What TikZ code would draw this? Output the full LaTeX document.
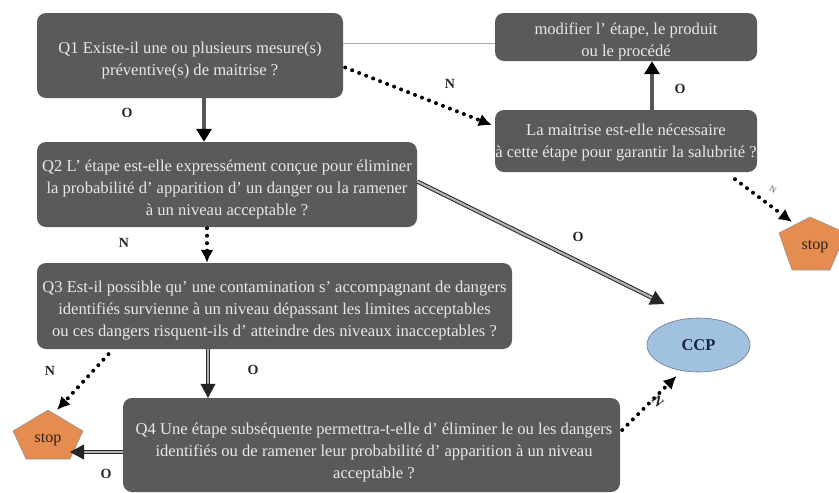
\documentclass[tikz,border=0pt]{standalone}
\usepackage{fontspec}
\setmainfont{Liberation Serif}
\usetikzlibrary{arrows.meta,shapes.geometric,calc}
\definecolor{boxgray}{RGB}{90,90,90}
\definecolor{boxtext}{RGB}{232,232,232}
\definecolor{stoporange}{RGB}{229,141,80}
\definecolor{ccpblue}{RGB}{160,193,224}
\definecolor{ccptext}{RGB}{25,35,65}
\definecolor{shaftgray}{RGB}{85,85,85}
\begin{document}
\begin{tikzpicture}[x=1pt,y=-1pt,
  qbox/.style={fill=boxgray, rounded corners=9pt, inner sep=0pt},
  qtext/.style={text=boxtext, align=center, font=\fontsize{16.6}{22}\selectfont, inner sep=0pt},
  lbl/.style={font=\fontsize{14}{14}\selectfont\bfseries, text=black!85},
  thickarrow/.style={line width=3.5pt, draw=shaftgray, -{Triangle[length=13pt,width=15pt,color=black]}},
  dotarrow/.style={line width=4pt, line cap=round, dash pattern=on 0pt off 7.5pt, draw=black,
    -{Latex[length=13pt,width=13pt]}},
  dblarrow/.style={draw=black!85, line width=1pt, double=gray!60, double distance=2.2pt,
    -{Triangle[length=14pt,width=15pt]}},
  stopshape/.style={fill=stoporange, draw=gray!80, line width=0.6pt},
  stoptext/.style={font=\fontsize{16}{16}\selectfont, text=black!75!brown}
]
\useasboundingbox (0,0) rectangle (839,493);
\fill[white] (0,0) rectangle (839,493);

% boxes
\node[qbox, minimum width=306pt, minimum height=85pt] (q1) at (190,55.5) {};
\node[qtext] (q1t) at (190,60.5)
  {Q1 Existe-il une ou plusieurs mesure(s)\\préventive(s) de maitrise ?};
\node[qbox, minimum width=262pt, minimum height=48pt] (mod) at (626,37) {};
\node[qtext] (modt) at (626,41)
  {modifier l' étape, le produit\\ou le procédé};
\node[qbox, minimum width=262pt, minimum height=62pt] (mai) at (626,141) {};
\node[qtext] (mait) at (626,143)
  {La maitrise est-elle nécessaire\\à cette étape pour garantir la salubrité ?};
\node[qbox, minimum width=380pt, minimum height=85pt] (q2) at (227,184.5) {};
\node[qtext] (q2t) at (227,189)
  {Q2 L' étape est-elle expressément conçue pour éliminer\\la probabilité d' apparition d' un danger ou la ramener\\à un niveau acceptable ?};
\node[qbox, minimum width=475pt, minimum height=86pt] (q3) at (274.5,306) {};
\node[qtext] (q3t) at (274.5,311)
  {Q3 Est-il possible qu' une contamination s' accompagnant de dangers\\identifiés survienne à un niveau dépassant les limites acceptables\\ou ces dangers risquent-ils d' atteindre des niveaux inacceptables ?};
\node[qbox, minimum width=497pt, minimum height=94pt] (q4) at (371.5,445) {};
\node[qtext] (q4t) at (374,452)
  {Q4 Une étape subséquente permettra-t-elle d' éliminer le ou les dangers\\identifiés ou de ramener leur probabilité d' apparition à un niveau\\acceptable ?};

\node[ellipse, fill=ccpblue, draw=gray!90!blue, line width=0.6pt, minimum width=103pt, minimum height=54pt,
  inner sep=0pt, text=ccptext, font=\fontsize{16.5}{16.5}\selectfont\bfseries] (ccp) at (698.5,345) {CCP};

% stop pentagons
\fill[stopshape] (48,410) -- (83,431) -- (70,459) -- (26,459) -- (13,431) -- cycle;
\node[stoptext] (stopL) at (48,440) {stop};
\fill[stopshape] (810,217) -- (846,233) -- (830,270) -- (792,270) -- (779,233) -- cycle;
\node[stoptext] (stopR) at (815,247) {stop};

% connectors
\draw[gray!70, line width=0.7pt] ($(q1.east)+(0,-12)$) -- ($(mod.west)+(0,6.5)$);
\draw[thickarrow] ($(q1.south)+(14,0)$) -- ($(q2.north)+(-23,0)$);
\draw[dotarrow] ($(q1.east)+(2,12)$) -- ($(mai.west)+(-3,-16)$);
\draw[thickarrow] ($(mai.north)+(26,0)$) -- ($(mod.south)+(26,0)$);
\draw[dblarrow] ($(q2.east)+(0,-3)$) -- ($(ccp)+(-34,-41)$);
\draw[dotarrow] ($(q2.south)+(-20,1)$) -- ($(q3.north)+(-67.5,0)$);
\draw[dblarrow] ($(q3.south)+(-66.5,0)$) -- ($(q4.north)+(-163.5,0)$);
\draw[dotarrow] ($(q3.south)+(-166,5)$) -- ($(stopL)+(9,-30)$);
\draw[dblarrow] ($(q4.west)+(0,7)$) -- ($(stopL)+(22,12)$);
\draw[dotarrow] ($(q4.east)+(2,-15)$) -- ($(ccp)+(-22,31)$);
\draw[dotarrow] ($(mai.south)+(109,7)$) -- ($(stopR)+(-23,-25)$);

% labels
\node[lbl] (l1) at (127,113) {O};
\node[lbl] (l2) at (450,84) {N};
\node[lbl] (l3) at (680,89) {O};
\node[lbl] (l4) at (124,243) {N};
\node[lbl] (l5) at (578,237) {O};
\node[lbl] (l6) at (50,371) {N};
\node[lbl] (l7) at (253,370) {O};
\node[lbl] (l8) at (106,474) {O};
\node[lbl, rotate=-50] (l9) at (658,401) {N};
\node[font=\fontsize{9}{9}\selectfont, text=gray!70!black, rotate=-30] (l10) at (773,190) {N};
\end{tikzpicture}
\end{document}
